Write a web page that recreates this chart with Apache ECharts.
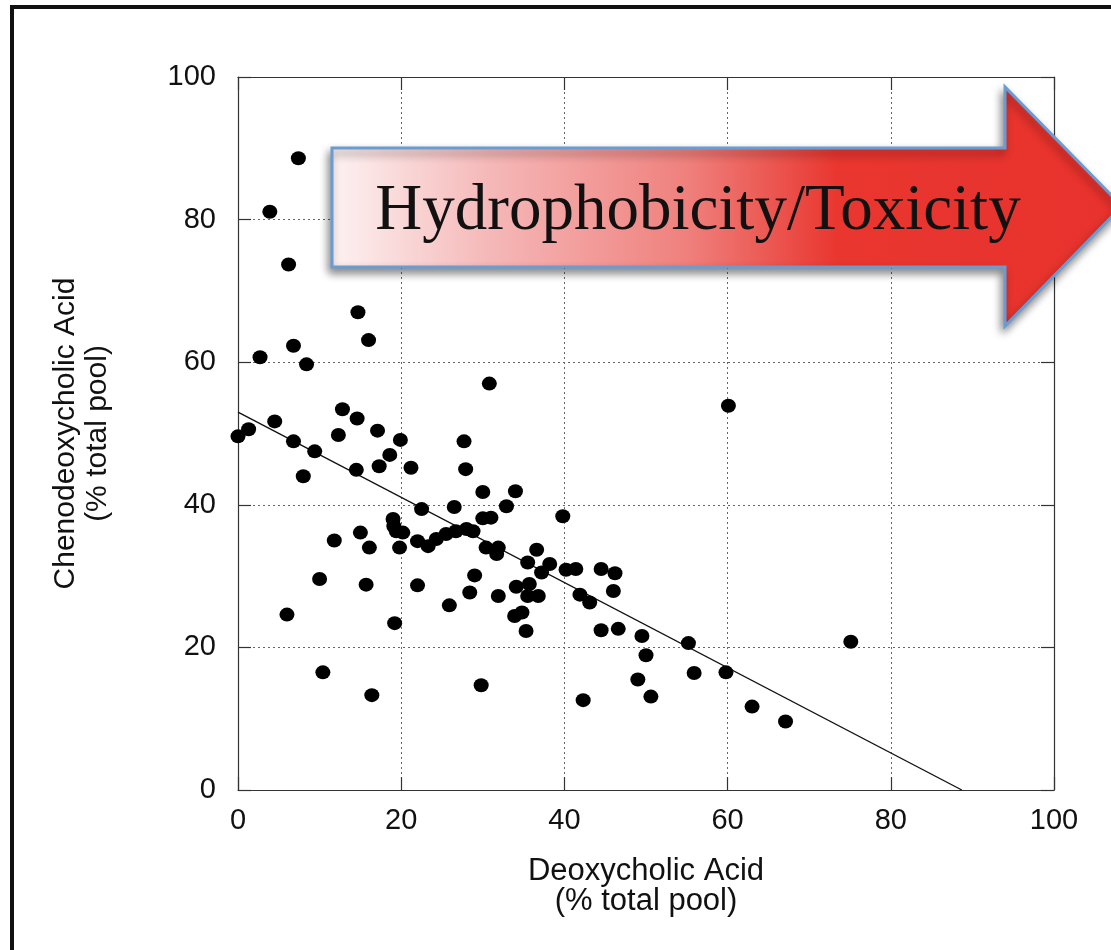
<!DOCTYPE html>
<html>
<head>
<meta charset="utf-8">
<script src="https://cdn.jsdelivr.net/npm/echarts@6/dist/echarts.min.js"></script>
<style>
  html, body { margin: 0; background: #fff; }
  #main { width: 1111px; height: 950px; }
</style>
</head>
<body>
<div id="main"></div>
<script>
// deoxycholic acid (% total pool), one entry per subject
const deoxycholic = [
  7.4, 3.9, 6.2, 14.7, 16.0, 6.8, 2.7, 8.4, 30.8, 12.8,
  14.6, 4.5, 17.1, 1.3, 0.0, 12.3, 19.9, 27.7, 6.8, 9.4,
  18.6, 17.3, 14.5, 21.2, 27.9, 8.0, 30.0, 34.0, 32.9, 22.5,
  26.5, 39.8, 30.0, 31.0, 19.0, 19.1, 19.4, 20.2, 15.0, 11.8,
  16.1, 19.8, 22.0, 23.3, 24.3, 25.5, 26.7, 28.0, 28.8, 30.4,
  31.9, 31.7, 35.5, 36.6, 38.2, 37.2, 40.2, 41.4, 44.5, 46.2,
  10.0, 29.0, 15.7, 22.0, 34.1, 35.7, 35.5, 36.8, 28.4, 31.9,
  41.9, 43.1, 25.9, 33.9, 34.8, 35.3, 6.0, 19.2, 44.5, 46.0,
  46.6, 49.5, 50.0, 55.2, 49.0, 50.6, 10.4, 16.4, 29.8, 42.3,
  55.9, 59.8, 63.0, 67.1, 75.1, 60.1
];
// chenodeoxycholic acid (% total pool), same order
const chenodeoxycholic = [
  88.6, 81.1, 73.7, 67.0, 63.1, 62.3, 60.7, 59.7, 57.0, 53.4,
  52.1, 51.7, 50.4, 50.6, 49.6, 49.8, 49.1, 48.9, 48.9, 47.5,
  47.0, 45.4, 44.9, 45.2, 45.0, 44.0, 41.8, 41.9, 39.8, 39.4,
  39.7, 38.4, 38.1, 38.2, 38.0, 37.0, 36.3, 36.1, 36.1, 35.0,
  34.0, 34.0, 34.9, 34.2, 35.2, 35.9, 36.3, 36.6, 36.3, 34.0,
  34.0, 33.1, 31.9, 33.7, 31.7, 30.5, 30.9, 31.0, 31.0, 30.4,
  29.6, 30.1, 28.8, 28.7, 28.5, 28.9, 27.2, 27.2, 27.7, 27.2,
  27.4, 26.3, 25.9, 24.4, 24.9, 22.3, 24.6, 23.4, 22.4, 27.9,
  22.6, 21.6, 18.9, 20.6, 15.5, 13.1, 16.5, 13.3, 14.7, 12.6,
  16.4, 16.5, 11.7, 9.6, 20.8, 53.9
];
// least-squares line, drawn from its two ends
const fitLine = [[0, 53.0], [88.7, 0]];
const axisTicks = [0, 20, 40, 60, 80, 100];
const arrowLabel = 'Hydrophobicity/Toxicity';

const points = deoxycholic.map((x, i) => [x, chenodeoxycholic[i]]);
const sans = '"Liberation Sans", Arial, sans-serif';

const myChart = echarts.init(document.getElementById('main'));

const baseAxis = {
  type: 'value',
  min: axisTicks[0],
  max: axisTicks[axisTicks.length - 1],
  interval: 20,
  axisLine: { show: true, onZero: false, lineStyle: { color: '#333', width: 1.2 } },
  axisTick: { show: true, inside: true, length: 13, lineStyle: { color: '#333', width: 1.2 } }
};

const option = {
  animation: false,
  backgroundColor: '#fff',
  grid: { left: 238, right: 57, top: 77, bottom: 160 },
  xAxis: [
    Object.assign({}, baseAxis, {
      position: 'bottom',
      name: 'Deoxycholic Acid\n(% total pool)',
      nameLocation: 'middle',
      nameGap: 66,
      nameTextStyle: { color: '#111', fontFamily: sans, fontSize: 31, lineHeight: 30 },
      axisLabel: { color: '#111', fontFamily: sans, fontSize: 29, margin: 16 },
      splitLine: { show: true, lineStyle: { color: '#666', type: [2, 3], width: 1 } }
    }),
    Object.assign({}, baseAxis, {
      position: 'top',
      axisLabel: { show: false },
      splitLine: { show: false }
    })
  ],
  yAxis: [
    Object.assign({}, baseAxis, {
      position: 'left',
      name: 'Chenodeoxycholic Acid\n(% total pool)',
      nameLocation: 'middle',
      nameGap: 124,
      nameTextStyle: { color: '#111', fontFamily: sans, fontSize: 30, lineHeight: 32 },
      axisLabel: { color: '#111', fontFamily: sans, fontSize: 29, margin: 22 },
      splitLine: { show: true, lineStyle: { color: '#666', type: [2, 3], width: 1 } }
    }),
    Object.assign({}, baseAxis, {
      position: 'right',
      axisLabel: { show: false },
      splitLine: { show: false }
    })
  ],
  series: [
    {
      type: 'line',
      data: fitLine,
      symbol: 'none',
      lineStyle: { color: '#111', width: 1.4 },
      z: 2
    },
    {
      type: 'scatter',
      data: points,
      symbol: 'circle',
      symbolSize: [15, 14],
      itemStyle: { color: '#000', opacity: 1 },
      z: 3
    }
  ],
  graphic: [
    // page frame (top and left edges)
    { type: 'line', shape: { x1: 10, y1: 7, x2: 1111, y2: 7 }, style: { stroke: '#111', lineWidth: 4 }, z: 100 },
    { type: 'line', shape: { x1: 12, y1: 5, x2: 12, y2: 950 }, style: { stroke: '#111', lineWidth: 4 }, z: 100 },
    // big arrow
    {
      type: 'polygon',
      shape: {
        points: [[332, 148], [1005, 148], [1005, 87], [1122, 206], [1005, 326], [1005, 267], [332, 267]]
      },
      style: {
        fill: new echarts.graphic.LinearGradient(0, 0, 1, 0, [
          { offset: 0, color: '#fdf2f2' },
          { offset: 0.2, color: '#f5b8b8' },
          { offset: 0.45, color: '#ef807c' },
          { offset: 0.64, color: '#e9362f' },
          { offset: 1, color: '#e8322d' }
        ]),
        stroke: '#6b9bd1',
        lineWidth: 3,
        shadowBlur: 8,
        shadowOffsetX: -2,
        shadowOffsetY: 5,
        shadowColor: 'rgba(0,0,0,0.45)'
      },
      z: 50
    },
    {
      type: 'text',
      x: 698,
      y: 212,
      style: {
        text: arrowLabel,
        fill: '#111',
        font: '65px "Liberation Serif", "Times New Roman", serif',
        textAlign: 'center',
        textVerticalAlign: 'middle'
      },
      z: 51
    }
  ]
};

myChart.setOption(option);
</script>
</body>
</html>
